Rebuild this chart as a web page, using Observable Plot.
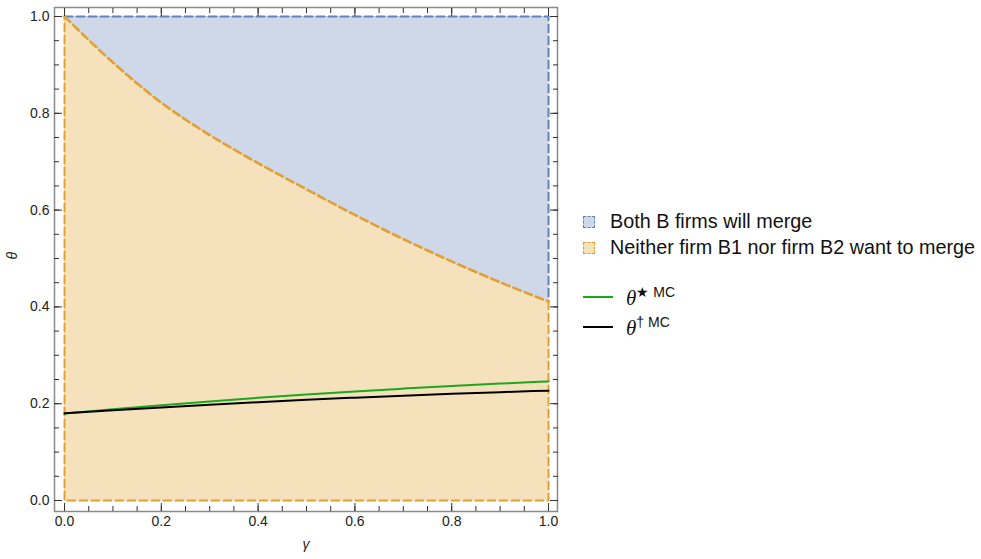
<!DOCTYPE html>
<html>
<head>
<meta charset="utf-8">
<script src="https://cdn.jsdelivr.net/npm/d3@7"></script>
<script src="https://cdn.jsdelivr.net/npm/@observablehq/plot@0.6"></script>
<style>
  html, body { margin: 0; padding: 0; background: #fff; }
  #wrap { position: relative; width: 981px; height: 559px; font-family: "Liberation Sans", Arial, sans-serif; }
  #chart { position: absolute; left: 0; top: 0; }
  .leg { position: absolute; font-size: 19.8px; color: #111; white-space: nowrap; line-height: 1; }
  .sw { position: absolute; width: 12px; height: 12px; box-sizing: border-box; }
  .ln { position: absolute; width: 30px; height: 2px; }
  .th { font-family: "Liberation Serif", "DejaVu Serif", serif; font-style: italic; font-size: 21px; }
  sup { font-size: 14px; font-style: normal; font-family: "Liberation Sans", Arial, sans-serif; vertical-align: 8px; }
</style>
</head>
<body>
<div id="wrap">
  <div id="chart"></div>
</div>
<script>
// gamma grid
const gamma = [0, 0.1, 0.2, 0.3, 0.4, 0.5, 0.6, 0.7, 0.8, 0.9, 1.0];
// boundary between "both merge" and "neither merge" regions
const boundary = [1.0, 0.905, 0.822, 0.755, 0.697, 0.643, 0.590, 0.540, 0.494, 0.451, 0.411];
// theta* MC (green)
const thetaStar = [0.180, 0.1888, 0.197, 0.2048, 0.2122, 0.219, 0.2254, 0.2312, 0.2366, 0.2416, 0.246];
// theta-dagger MC (black)
const thetaDagger = [0.180, 0.1863, 0.1923, 0.1979, 0.2031, 0.208, 0.2125, 0.2167, 0.2205, 0.2239, 0.227];
const majorTicks = [0, 0.2, 0.4, 0.6, 0.8, 1.0];
const minorTicks = [0, 0.05, 0.1, 0.15, 0.2, 0.25, 0.3, 0.35, 0.4, 0.45, 0.5, 0.55, 0.6, 0.65, 0.7, 0.75, 0.8, 0.85, 0.9, 0.95, 1.0];
const regionLabels = ["Both B firms will merge", "Neither firm B1 nor firm B2 want to merge"];

const blueFill = "#cfd8e9", blueStroke = "#5f82b8";
const orangeFill = "#f6e1bd", orangeStroke = "#e0a034";
const greenC = "#1ca81c";

const curve = gamma.map((g, i) => ({g, b: boundary[i], s: thetaStar[i], d: thetaDagger[i]}));
const last = curve.length - 1;
// blue region border: top edge and right upper edge
const blueBorder = [
  {g: gamma[0], t: boundary[0]},
  {g: gamma[last], t: boundary[0]},
  {g: gamma[last], t: boundary[last]}
];
// orange region border: curve, right lower edge, bottom, left edge
const orangeCurve = curve.map(d => ({g: d.g, t: d.b}));
const orangeEdges = [
  {g: gamma[last], t: boundary[last]},
  {g: gamma[last], t: 0},
  {g: gamma[0], t: 0},
  {g: gamma[0], t: boundary[0]}
];

const tickFont = 14;
const chart = Plot.plot({
  width: 575,
  height: 559,
  marginLeft: 54,
  marginRight: 18,
  marginTop: 7,
  marginBottom: 48,
  style: {fontFamily: "'Liberation Sans', Arial, sans-serif", fontSize: tickFont + "px", color: "#222", background: "transparent"},
  x: {domain: [-0.0207, 1.0186]},
  y: {domain: [-0.0227, 1.0186]},
  marks: [
    Plot.areaY(curve, {x: "g", y1: "b", y2: boundary[0], fill: blueFill, curve: "monotone-x"}),
    Plot.areaY(curve, {x: "g", y1: 0, y2: "b", fill: orangeFill, curve: "monotone-x"}),
    Plot.line(blueBorder, {x: "g", y: "t", stroke: blueStroke, strokeWidth: 2, strokeDasharray: "8,4"}),
    Plot.line(orangeEdges, {x: "g", y: "t", stroke: orangeStroke, strokeWidth: 2, strokeDasharray: "8,4"}),
    Plot.line(orangeCurve, {x: "g", y: "t", stroke: orangeStroke, strokeWidth: 2.6, strokeDasharray: "8,4", curve: "monotone-x"}),
    Plot.line(curve, {x: "g", y: "s", stroke: greenC, strokeWidth: 2, curve: "monotone-x"}),
    Plot.line(curve, {x: "g", y: "d", stroke: "#000", strokeWidth: 2, curve: "monotone-x"}),
    Plot.frame({stroke: "#8a8a8a", strokeWidth: 1.5}),
    // bottom axis
    Plot.axisX({anchor: "bottom", ticks: majorTicks, tickSize: -8, tickPadding: 13, tickFormat: d3.format(".1f"), label: null, stroke: "#333"}),
    Plot.axisX({anchor: "bottom", ticks: minorTicks, tickSize: -5, text: null, label: null, stroke: "#333"}),
    Plot.axisX({anchor: "top", ticks: majorTicks, tickSize: -8, text: null, label: null, stroke: "#333"}),
    Plot.axisX({anchor: "top", ticks: minorTicks, tickSize: -5, text: null, label: null, stroke: "#333"}),
    // left axis
    Plot.axisY({anchor: "left", ticks: majorTicks, tickSize: -8, tickPadding: 13, tickFormat: d3.format(".1f"), label: null, stroke: "#333"}),
    Plot.axisY({anchor: "left", ticks: minorTicks, tickSize: -5, text: null, label: null, stroke: "#333"}),
    Plot.axisY({anchor: "right", ticks: majorTicks, tickSize: -8, text: null, label: null, stroke: "#333"}),
    Plot.axisY({anchor: "right", ticks: minorTicks, tickSize: -5, text: null, label: null, stroke: "#333"}),
    Plot.text(["γ"], {frameAnchor: "bottom", dy: 37, fontStyle: "italic", fontSize: 14, fill: "#222"}),
    Plot.text(["θ"], {frameAnchor: "left", dx: -42, rotate: -90, fontStyle: "italic", fontSize: 14, fill: "#222"})
  ]
});
document.getElementById("chart").appendChild(chart);

// legend
const wrap = document.getElementById("wrap");
function addSwatch(top, fill, stroke, label) {
  const s = document.createElement("div");
  s.className = "sw";
  s.style.left = "583px"; s.style.top = (top - 6) + "px";
  s.style.background = fill; s.style.border = "1.5px dashed " + stroke;
  wrap.appendChild(s);
  const t = document.createElement("div");
  t.className = "leg";
  t.style.left = "610px"; t.style.top = (top - 10) + "px";
  t.textContent = label;
  wrap.appendChild(t);
}
addSwatch(222, blueFill, blueStroke, regionLabels[0]);
addSwatch(248, orangeFill, orangeStroke, regionLabels[1]);
function addLine(top, color, sym) {
  const l = document.createElement("div");
  l.className = "ln";
  l.style.left = "583px"; l.style.top = (top - 1) + "px"; l.style.background = color;
  wrap.appendChild(l);
  const t = document.createElement("div");
  t.className = "leg";
  t.style.left = "626px"; t.style.top = (top - 12) + "px";
  t.innerHTML = '<span class="th">θ</span><sup>' + sym + ' MC</sup>';
  wrap.appendChild(t);
}
addLine(297, greenC, "★");
addLine(327, "#000", "†");
</script>
</body>
</html>
